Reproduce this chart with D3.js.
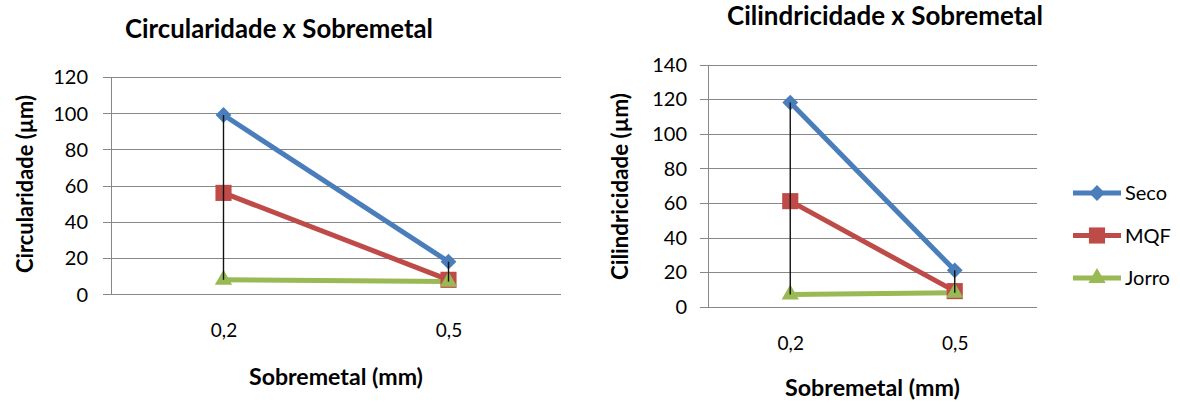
<!DOCTYPE html>
<html><head><meta charset="utf-8">
<script src="https://cdn.jsdelivr.net/npm/d3@7"></script>
<style>
html,body{margin:0;padding:0;background:#fff;}
svg{display:block;}
text{font-family:Lato,"Open Sans",sans-serif;fill:#000;}
</style></head>
<body>
<svg id="c" width="1180" height="405"></svg>
<script>
// ---- data ----
const categories = ["0,2", "0,5"];
const seriesNames = ["Seco", "MQF", "Jorro"];
const circSeco = [99, 18];
const circMQF = [56, 8];
const circJorro = [8, 7];
const cilSeco = [118, 21];
const cilMQF = [61, 9];
const cilJorro = [7, 8];
const circTicks = [0, 20, 40, 60, 80, 100, 120];
const cilTicks = [0, 20, 40, 60, 80, 100, 120, 140];
const titles = ["Circularidade x Sobremetal", "Cilindricidade x Sobremetal"];
const yTitles = ["Circularidade (µm)", "Cilindricidade (µm)"];
const xTitle = "Sobremetal (mm)";

const colors = {Seco: "#4A7EBB", MQF: "#BE4B48", Jorro: "#98B954"};
const svg = d3.select("#c");

function fitText(sel, targetW) {
  const fs = parseFloat(sel.style("font-size"));
  const w = sel.node().getComputedTextLength();
  sel.style("font-size", (fs * targetW / w).toFixed(2) + "px");
}

const symbols = {Seco: d3.symbolSquare, MQF: d3.symbolSquare, Jorro: d3.symbolTriangle};
const symSize = {Seco: 125, MQF: 260, Jorro: 130};
const symRot = {Seco: 45, MQF: 0, Jorro: 0};

function drawMarker(g, name, x, y) {
  g.append("path")
    .attr("d", d3.symbol().type(symbols[name]).size(symSize[name])())
    .attr("transform", `translate(${x},${y}) rotate(${symRot[name]})`)
    .attr("fill", colors[name]);
}

function chart(cfg) {
  const g = svg.append("g");
  const x = d3.scalePoint().domain(categories).range([cfg.x0, cfg.x1]).padding(0.5);
  const y = d3.scaleLinear().domain([0, d3.max(cfg.ticks)]).range([cfg.yb, cfg.yt]);

  // gridlines + y tick labels
  const ya = d3.axisLeft(y).tickValues(cfg.ticks).tickSize(-(cfg.x1 - cfg.x0 + 8)).tickPadding(cfg.tpad);
  const yg = g.append("g").attr("transform", `translate(${cfg.x0 - 8},0)`).call(ya);
  yg.select(".domain").remove();
  yg.selectAll(".tick line").attr("stroke", "#878787").attr("stroke-width", 1).attr("shape-rendering", "crispEdges");
  yg.selectAll(".tick text").style("font-size", "20px").attr("fill", "#000").attr("dy", "0.34em");

  // vertical axis line
  g.append("line").attr("x1", cfg.x0).attr("x2", cfg.x0).attr("y1", y(d3.max(cfg.ticks))).attr("y2", y(0))
    .attr("stroke", "#878787").attr("shape-rendering", "crispEdges");

  // x axis labels
  const xa = d3.axisBottom(x).tickSize(0).tickPadding(0);
  const xg = g.append("g").attr("transform", `translate(0,${cfg.yb})`).call(xa);
  xg.select(".domain").remove();
  xg.selectAll(".tick text").style("font-size", "19px").attr("dy", null).attr("y", 43);

  // lines
  const line = d3.line().x((d, i) => x(categories[i])).y(d => y(d));
  cfg.series.forEach((vals, si) => {
    const name = seriesNames[si];
    g.append("path").datum(vals).attr("d", line).attr("fill", "none")
      .attr("stroke", colors[name]).attr("stroke-width", 5).attr("stroke-linejoin", "round");
  });
  cfg.series.forEach((vals, si) => {
    const name = seriesNames[si];
    vals.forEach((v, i) => drawMarker(g, name, x(categories[i]), y(v)));
  });
  // high-low lines
  categories.forEach((c, i) => {
    const vs = cfg.series.map(s => s[i]);
    g.append("line").attr("x1", x(c)).attr("x2", x(c))
      .attr("y1", y(d3.max(vs))).attr("y2", y(d3.min(vs)))
      .attr("stroke", "#111").attr("stroke-width", 1.4);
  });

  // titles
  const t = g.append("text").text(cfg.title).attr("x", cfg.tx).attr("y", cfg.ty)
    .attr("text-anchor", "middle").style("font-weight", "bold").style("font-size", "22px");
  fitText(t, cfg.tw);
  const yt = g.append("text").text(cfg.yTitle)
    .attr("transform", `translate(${cfg.ytx},${cfg.yty}) rotate(-90)`)
    .attr("text-anchor", "middle").attr("dy", "0.35em").style("font-weight", "bold").style("font-size", "18px");
  fitText(yt, cfg.ytw);
  const xt = g.append("text").text(xTitle).attr("x", (cfg.x0 + cfg.x1) / 2).attr("y", cfg.xty)
    .attr("text-anchor", "middle").style("font-weight", "bold").style("font-size", "18px");
  fitText(xt, cfg.xtw);
}

chart({x0: 111, x1: 561, yt: 77, yb: 294.3, ticks: circTicks, tpad: 15,
  series: [circSeco, circMQF, circJorro], title: titles[0], tx: 279, ty: 38, tw: 308,
  yTitle: yTitles[0], ytx: 25, yty: 184, ytw: 178, xty: 385, xtw: 174});
chart({x0: 708, x1: 1037, yt: 64.5, yb: 306.7, ticks: cilTicks, tpad: 13,
  series: [cilSeco, cilMQF, cilJorro], title: titles[1], tx: 885, ty: 25, tw: 316,
  yTitle: yTitles[1], ytx: 620, yty: 186.5, ytw: 187, xty: 396, xtw: 175});

// legend
const legY = d3.scalePoint().domain(seriesNames).range([193, 278]);
const lg = svg.append("g");
seriesNames.forEach(name => {
  const yy = legY(name);
  lg.append("line").attr("x1", 1073).attr("x2", 1121).attr("y1", yy).attr("y2", yy)
    .attr("stroke", colors[name]).attr("stroke-width", 5);
  drawMarker(lg, name, 1097, yy);
  lg.append("text").text(name).attr("x", 1125).attr("y", yy).attr("dy", "0.36em").style("font-size", "20px");
});
</script>
</body></html>
